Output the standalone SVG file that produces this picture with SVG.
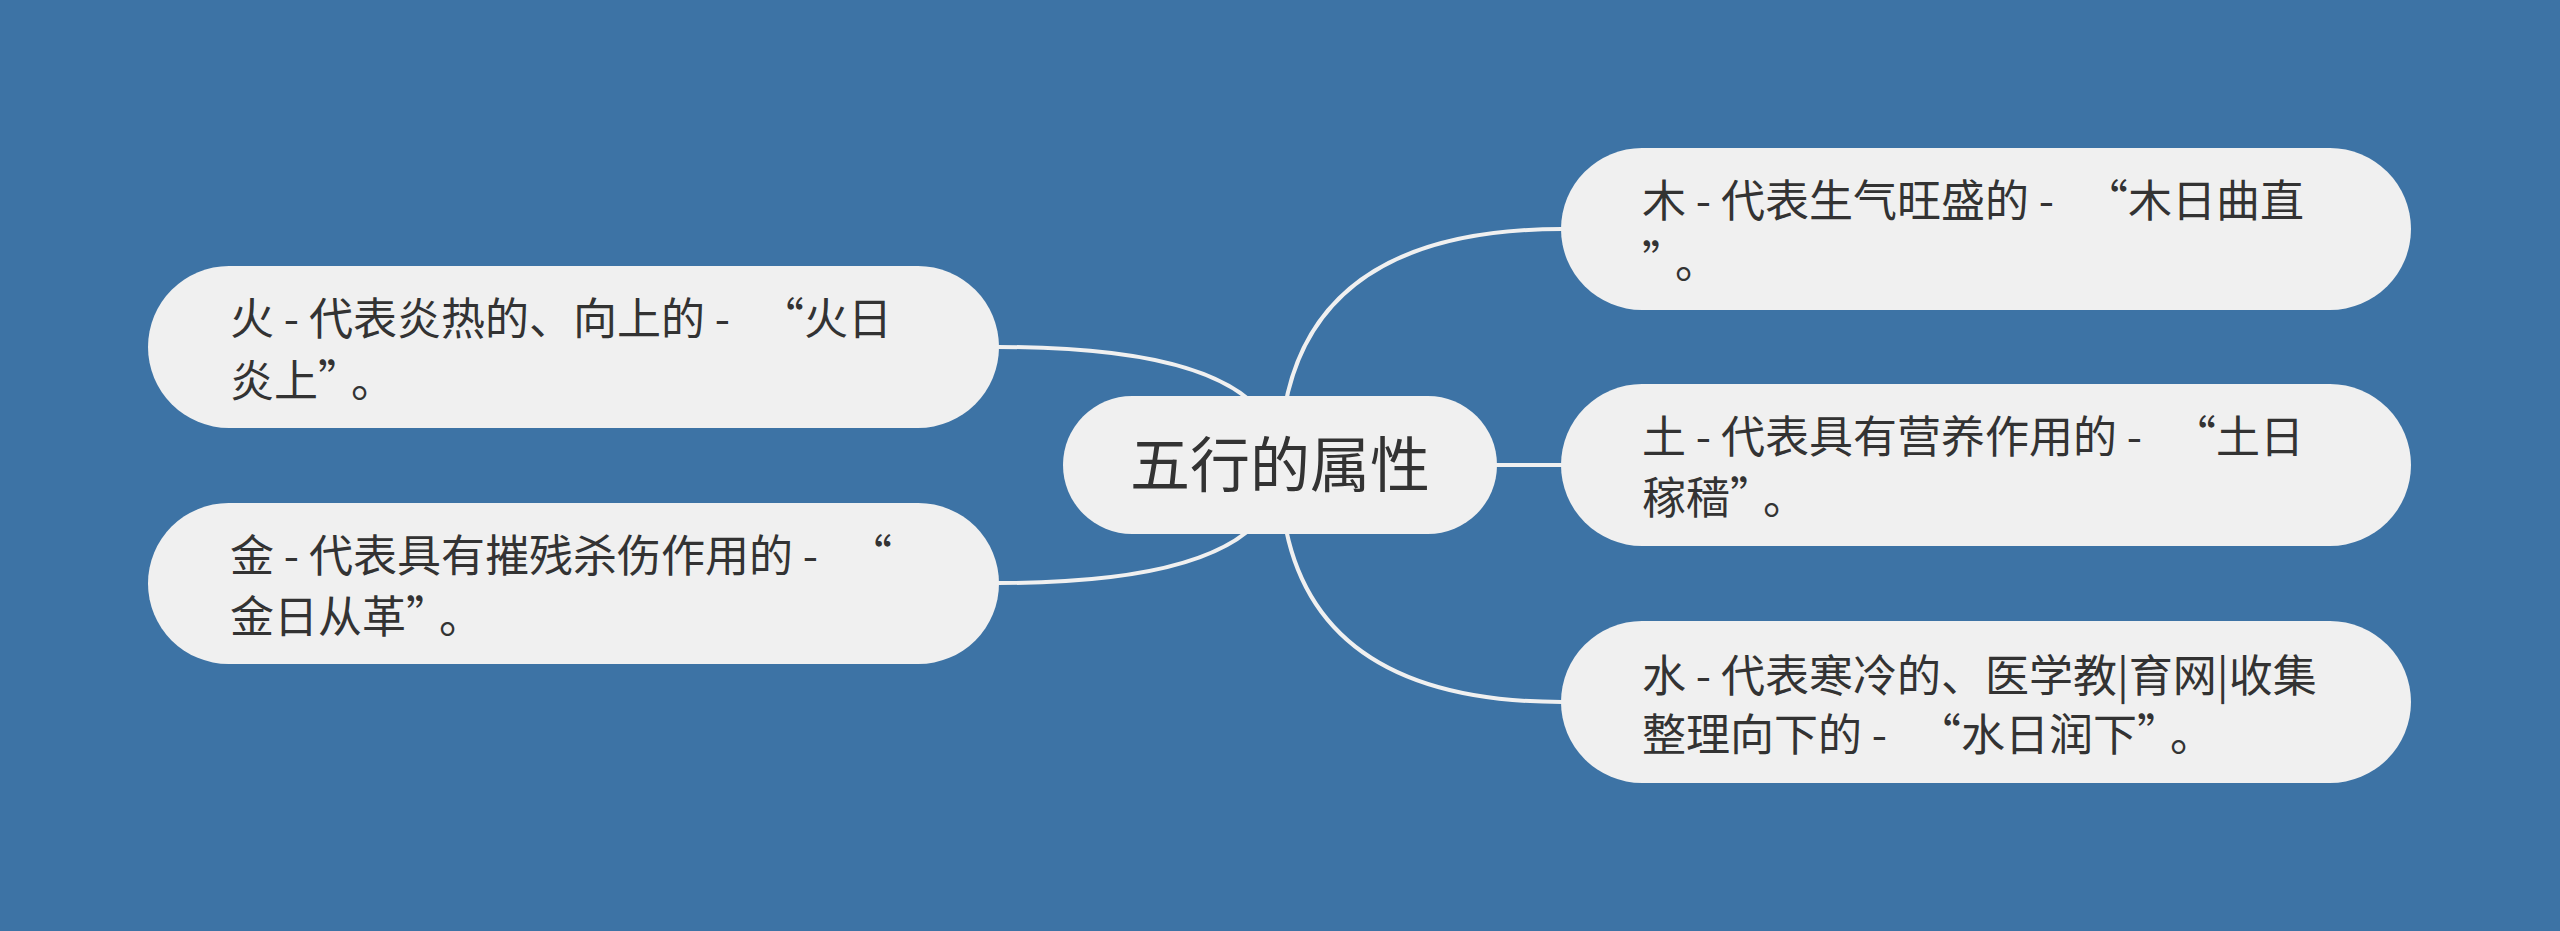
<svg xmlns="http://www.w3.org/2000/svg" width="2560" height="931" viewBox="0 0 2560 931">
  <style>
    .bg { fill: #3d73a5; }
    .node { fill: #f0f0f0; }
    .conn { fill: none; stroke: #f0f0f0; stroke-width: 4; }
    .t { font-family: "Noto Sans CJK SC", "Noto Sans", sans-serif; fill: #333333; font-size: 44px; }
    .root { font-family: "Noto Sans CJK SC", "Noto Sans", sans-serif; fill: #333333; font-size: 60px; }
  </style>
  <rect class="bg" x="0" y="0" width="2560" height="931"/>
  <g id="connectors">
    <path class="conn" d="M1280 465 Q1280 229 1562 229"/>
    <path class="conn" d="M1280 465 L1562 465"/>
    <path class="conn" d="M1280 465 Q1280 702 1562 702"/>
    <path class="conn" d="M1280 465 Q1280 347 998 347"/>
    <path class="conn" d="M1280 465 Q1280 583 998 583"/>
  </g>
  <g id="root">
    <rect class="node" x="1063" y="396" width="434" height="138" rx="69"/>
    <text class="root" x="1280" y="487" text-anchor="middle">五行的属性</text>
  </g>
  <g id="node-fire">
    <rect class="node" x="148" y="266" width="851" height="162" rx="81"/>
    <text class="t" x="230" y="335">火 - 代表炎热的、向上的 -<tspan dx="20"> “</tspan>火日</text>
    <text class="t" x="230" y="397">炎上”<tspan dx="11">。</tspan></text>
  </g>
  <g id="node-metal">
    <rect class="node" x="148" y="503" width="851" height="161" rx="80.5"/>
    <text class="t" x="230" y="572">金 - 代表具有摧残杀伤作用的 -<tspan dx="20"> “</tspan></text>
    <text class="t" x="230" y="633">金日从革”<tspan dx="11">。</tspan></text>
  </g>
  <g id="node-wood">
    <rect class="node" x="1561" y="148" width="850" height="162" rx="81"/>
    <text class="t" x="1642" y="217">木 - 代表生气旺盛的 -<tspan dx="20"> “</tspan>木日曲直</text>
    <text class="t" x="1642" y="278">”<tspan dx="11">。</tspan></text>
  </g>
  <g id="node-earth">
    <rect class="node" x="1561" y="384" width="850" height="162" rx="81"/>
    <text class="t" x="1642" y="453">土 - 代表具有营养作用的 -<tspan dx="20"> “</tspan>土日</text>
    <text class="t" x="1642" y="514">稼穑”<tspan dx="11">。</tspan></text>
  </g>
  <g id="node-water">
    <rect class="node" x="1561" y="621" width="850" height="162" rx="81"/>
    <text class="t" x="1642" y="692">水 - 代表寒冷的、医学教|育网|收集</text>
    <text class="t" x="1642" y="751">整理向下的 -<tspan dx="20"> “</tspan>水日润下”<tspan dx="11">。</tspan></text>
  </g>
</svg>
